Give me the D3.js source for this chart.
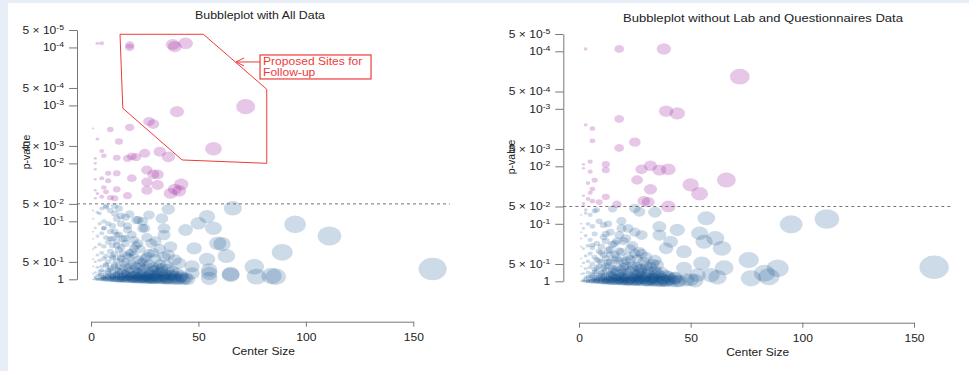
<!DOCTYPE html>
<html><head><meta charset="utf-8">
<script src="https://cdn.jsdelivr.net/npm/d3@7"></script>
<style>
body{margin:0;background:#e7eef8}
svg{display:block}
text{font-family:"Liberation Sans",Arial,Helvetica,sans-serif}
</style>
</head><body>
<svg id="c" width="969" height="371"></svg>
<script>
// ---------- data: [center size, p-value] ----------
const yTicks = [5e-5, 1e-4, 5e-4, 1e-3, 5e-3, 1e-2, 5e-2, 1e-1, 5e-1, 1];
const xTicks = [0, 50, 100, 150];
const threshold = 0.05;
const titles = ["Bubbleplot with All Data", "Bubbleplot without Lab and Questionnaires Data"];

const leftPurple = [
[3,8.5e-5],[5,8.5e-5],[18,9.1e-5],[18,1.0e-4],[38,8.9e-5],[39,9.7e-5],[44,8.5e-5],
[40,1.28e-3],[72,1.05e-3],[27,1.9e-3],[29,2.1e-3],[57,5.6e-3],[18,2.4e-3],[9,2.6e-3],[1,2.5e-3],
[3,3.8e-3],[13,4.2e-3],[5,6.1e-3],[6,7.4e-3],[2,8.2e-3],[12,8.0e-3],[17,8.2e-3],[19,7.6e-3],[21,7.8e-3],
[25,6.7e-3],[32,6.3e-3],[36,7.7e-3],[8,0.0148],[12,0.0148],[26,0.013],[29,0.0155],[31,0.0155],
[2,0.0126],[2,0.01],[2,0.0188],[5,0.018],[8,0.02],[19,0.018],[26,0.021],[31,0.0236],[42,0.023],
[39,0.028],[41,0.03],[37,0.033],[26,0.029],[12,0.028],[6,0.026],[7,0.031],[2,0.029],[2,0.04],
[5,0.0376],[9,0.039],[17,0.036],[11,0.04],[3,0.033]
];

const leftBlue = [
[95,0.1125],[111,0.179],[89,0.342],[159,0.664],[76,0.607],[77,0.9],[84,0.877],[86,0.9],[66,0.0596],
[54,0.083],[50,0.108],[57,0.132],[44,0.141],[61,0.246],[59,0.24],[63,0.397],[48,0.292],[54,0.452],
[55,0.69],[65,0.81],[55,0.96],[47,0.79],[41,0.53],[36,0.062],[33,0.089],[27,0.078],[22,0.095],
[34,0.172],[37,0.274],[24,0.132],[20,0.21],[26,0.407],[34,0.407],[12,0.172],[11,0.073],[7,0.057],
[4,0.073],[6,0.132],[6,0.13],[25,0.132],[21,0.095],[11,0.054],[7,0.054],[34,0.132],[28,0.24],
[20,0.29],[16,0.196],[11,0.15],[39,0.46],[47,0.6],[65,0.84],[55,0.79],[8,0.11],[10,0.2],
[1,1],[2,1],[3,1],[4,1],[5,1],[6,1],[7,1],[8,1],[9,1],[10,1],[11,1],[12,1],[13,1],[14,1],[15,1],
[16,1],[17,1],[18,1],[19,1],[20,1],[21,1],[22,1],[23,1],[24,1],[25,1],[26,1],[27,1],[28,1],[29,1],
[30,1],[32,1],[34,1],[36,1],[38,1],[40,1],[43,1],[45,1],
[2,0.95],[4,0.93],[6,0.96],[8,0.92],[10,0.95],[12,0.9],[14,0.97],[16,0.93],[18,0.9],[20,0.96],
[22,0.92],[24,0.95],[26,0.91],[28,0.94],[31,0.96],[33,0.92],[35,0.97],[39,0.9],[42,0.94],
[3,0.86],[5,0.84],[7,0.87],[9,0.83],[11,0.85],[13,0.8],[15,0.86],[17,0.82],[19,0.85],[21,0.8],
[23,0.84],[25,0.87],[27,0.82],[29,0.85],[31,0.8],[34,0.84],[37,0.86],
[2,0.76],[4,0.72],[6,0.75],[8,0.7],[10,0.74],[12,0.68],[14,0.73],[16,0.77],[18,0.71],[20,0.66],
[22,0.74],[24,0.7],[27,0.76],[30,0.69],[33,0.73],[36,0.67],
[3,0.62],[5,0.6],[7,0.58],[9,0.63],[11,0.56],[13,0.6],[15,0.54],[17,0.62],[19,0.57],[21,0.6],
[23,0.52],[26,0.58],[29,0.62],[32,0.55],
[2,0.5],[4,0.47],[6,0.44],[8,0.5],[10,0.43],[12,0.48],[14,0.45],[16,0.5],[18,0.42],[22,0.46],[24,0.5],[30,0.44],
[3,0.38],[5,0.35],[7,0.4],[9,0.33],[11,0.37],[13,0.31],[15,0.36],[17,0.39],[19,0.34],[23,0.3],[27,0.36],
[2,0.28],[4,0.25],[6,0.27],[8,0.23],[10,0.26],[12,0.22],[14,0.28],[16,0.24],[21,0.26],
[1,0.2],[3,0.18],[5,0.16],[7,0.19],[9,0.15],[13,0.17],[17,0.14],
[2,0.13],[4,0.11],[6,0.1],[10,0.12],[12,0.09],[14,0.11],[16,0.085],[18,0.075],
[1,0.065],[3,0.07],[5,0.06],[9,0.065],[13,0.06],[1,0.09],[1,0.15],[1,0.3],[1,0.45],[1,0.6],[1,0.8],
[5,0.98],[9,0.97],[13,0.99],[17,0.96],[21,0.98],[25,0.97],[29,0.99],[33,0.98],[37,0.97],[41,0.99],[44,0.96],
[6,0.9],[10,0.88],[14,0.91],[18,0.87],[22,0.89],[26,0.93],[30,0.88],[34,0.91],[38,0.84],[42,0.88],
[4,0.8],[8,0.78],[12,0.82],[16,0.79],[20,0.83],[24,0.78],[28,0.81],[32,0.77],[35,0.83],[40,0.79],
[5,0.7],[9,0.68],[13,0.72],[17,0.66],[21,0.71],[25,0.65],[29,0.7],[33,0.64],[38,0.72],
[7,0.55],[11,0.6],[15,0.64],[19,0.52],[23,0.6],[27,0.54],[31,0.63],[35,0.57],
[10,0.4],[14,0.42],[20,0.38],[25,0.43],[29,0.35],[32,0.3],[36,0.38],[18,0.35],
[12,0.26],[15,0.2],[22,0.24],[26,0.19],[30,0.22],[19,0.17],[9,0.2],[17,0.12],[24,0.1],[14,0.08],
[3,0.99],[7,0.98],[11,0.99],[15,0.98],[19,0.99],[23,0.98],[27,0.99],[31,0.98],[35,0.99],[39,0.98],
[2,0.9],[6,0.92],[10,0.91],[14,0.89],[18,0.93],[22,0.9],[26,0.88],[30,0.92],[4,0.84],[8,0.86],[12,0.85],[16,0.83],[20,0.86]
];

const rightPurple = [
[3,9.1e-5],[18,9.1e-5],[38,9.1e-5],[72,2.76e-4],[39,1.1e-3],[44,1.2e-3],[18,1.5e-3],[3,1.9e-3],
[6,2.2e-3],[6,3.6e-3],[25,3.8e-3],[18,4.8e-3],[5,8.3e-3],[2,9.2e-3],[2,0.0108],[12,9.2e-3],
[12,0.0116],[5,0.0124],[7,0.0175],[4,0.0196],[6,0.0248],[5,0.0288],[2,0.0325],[4,0.037],[6,0.04],
[9,0.042],[12,0.034],[17,0.046],[28,0.0113],[32,9.8e-3],[36,0.0116],[40,0.0113],[26,0.0173],
[32,0.025],[29,0.04],[31,0.042],[40,0.05],[50,0.021],[54,0.030],[66,0.0173],[2,0.044],[2,0.048]
];

const rightBlue = [
[95,0.102],[111,0.0826],[159,0.571],[76,0.426],[89,0.594],[83,0.726],[85,0.832],[77,0.887],
[57,0.08],[54,0.146],[61,0.179],[56,0.205],[64,0.267],[47,0.306],[55,0.486],[65,0.58],[59,0.78],
[47,0.59],[44,0.128],[41,0.205],[36,0.112],[34,0.063],[27,0.062],[25,0.054],[15,0.055],[8,0.057],
[3,0.057],[11,0.105],[18,0.157],[22,0.12],[28,0.157],[36,0.157],[39,0.267],[27,0.306],[35,0.52],
[26,0.557],[18,0.43],[14,0.35],[6,0.233],[15,0.78],[43,0.89],[48,0.95],[53,0.78],[50,0.93],[52,0.98],[62,0.85],
[1,1],[2,1],[3,1],[4,1],[5,1],[6,1],[7,1],[8,1],[9,1],[10,1],[11,1],[12,1],[13,1],[14,1],[15,1],
[16,1],[17,1],[18,1],[19,1],[20,1],[21,1],[22,1],[24,1],[25,1],[26,1],[28,1],[30,1],[31,1],[33,1],
[35,1],[37,1],[39,1],[42,1],[44,1],
[2,0.94],[4,0.96],[6,0.92],[8,0.95],[10,0.91],[12,0.96],[14,0.93],[16,0.9],[18,0.95],[20,0.92],
[23,0.96],[25,0.9],[27,0.94],[29,0.91],[32,0.95],[34,0.9],[38,0.94],[41,0.92],
[3,0.85],[5,0.82],[7,0.86],[9,0.8],[11,0.84],[13,0.87],[15,0.81],[17,0.85],[19,0.8],[21,0.86],
[24,0.82],[26,0.85],[28,0.8],[30,0.84],[33,0.86],[36,0.8],[40,0.84],
[2,0.73],[4,0.7],[6,0.74],[8,0.68],[10,0.72],[12,0.66],[14,0.75],[16,0.69],[18,0.73],[20,0.67],
[22,0.71],[25,0.75],[28,0.68],[31,0.72],[34,0.66],[37,0.7],
[3,0.6],[5,0.57],[7,0.62],[9,0.55],[11,0.59],[13,0.53],[15,0.6],[17,0.56],[19,0.62],[21,0.54],
[24,0.58],[27,0.61],[30,0.55],[33,0.5],
[2,0.48],[4,0.45],[6,0.5],[8,0.42],[10,0.47],[12,0.4],[14,0.46],[16,0.43],[20,0.48],[23,0.42],[29,0.46],
[3,0.36],[5,0.33],[7,0.38],[9,0.3],[11,0.35],[13,0.29],[16,0.34],[19,0.31],[22,0.37],[25,0.33],
[2,0.27],[4,0.24],[6,0.26],[8,0.22],[10,0.25],[12,0.2],[15,0.23],[20,0.2],[24,0.24],
[1,0.18],[3,0.16],[5,0.19],[7,0.15],[11,0.17],[14,0.14],[17,0.2],
[2,0.12],[4,0.1],[6,0.11],[9,0.09],[13,0.1],[19,0.09],
[1,0.07],[3,0.065],[5,0.07],[7,0.06],[1,0.1],[1,0.14],[1,0.25],[1,0.4],[1,0.55],[1,0.75],
[4,0.99],[8,0.97],[12,0.98],[16,0.99],[20,0.97],[23,0.99],[27,0.98],[32,0.97],[36,0.99],[40,0.97],[45,0.98],
[5,0.89],[9,0.9],[13,0.92],[17,0.88],[21,0.91],[25,0.87],[29,0.93],[33,0.89],[37,0.9],[43,0.86],
[6,0.79],[10,0.81],[14,0.78],[18,0.83],[22,0.79],[26,0.77],[30,0.82],[34,0.78],[39,0.8],
[7,0.69],[11,0.7],[15,0.67],[19,0.71],[23,0.65],[27,0.72],[31,0.66],[35,0.73],
[8,0.58],[12,0.55],[16,0.62],[20,0.57],[24,0.53],[28,0.6],[32,0.56],
[9,0.44],[13,0.47],[17,0.4],[21,0.44],[26,0.41],[30,0.38],[34,0.43],
[10,0.32],[14,0.28],[18,0.3],[23,0.27],[28,0.33],[16,0.22],[21,0.18],[12,0.15],[25,0.14],[19,0.12],
[2,0.98],[6,0.99],[10,0.98],[14,0.99],[18,0.98],[22,0.99],[26,0.98],[30,0.99],[34,0.98],[38,0.99],
[3,0.91],[7,0.93],[11,0.9],[15,0.92],[19,0.89],[23,0.91],[27,0.89],[4,0.83],[8,0.85],[12,0.82],[16,0.86],[20,0.84]
];

// follow-up region outline (left panel), in data units
const followUpRegion = [[13.5,5.93e-5],[52.3,5.93e-5],[81.8,5.27e-4],[81.8,0.00997],[42.4,0.00874],[14.8,1.12e-3]];
const followUpArrowTip = [67.5,1.78e-4];
const followUpLabel = ["Proposed Sites for","Follow-up"];

// ---------- drawing ----------
const SX = 1.15; // horizontal stretch of the text in the original picture
const svg = d3.select("#c");
svg.append("rect").attr("x",8).attr("y",3).attr("width",961).attr("height",368).attr("fill","#fff");

function panel(cfg){
  const g = svg.append("g");
  const x = d3.scaleLinear().domain([0,150]).range(cfg.xr);
  const y = d3.scaleLog().domain([1,5e-5]).range(cfg.yr);
  const r = d3.scaleSqrt().domain([0,160]).range([0,cfg.rmax]);
  const xEnd = x(167);

  // title
  g.append("text").attr("x",cfg.titleX).attr("y",cfg.titleY)
    .attr("text-anchor","middle").attr("font-size",11).attr("fill","#222")
    .attr("textLength",cfg.titleW).attr("lengthAdjust","spacingAndGlyphs").text(cfg.title);

  // y axis
  const ya = g.append("g").attr("transform",`translate(${cfg.ax},0)`)
    .call(d3.axisLeft(y).tickValues(yTicks).tickSize(8).tickSizeOuter(0).tickFormat(""));
  ya.selectAll("path,line").attr("stroke","#777");
  yTicks.forEach(t=>{
    const ex = Math.floor(Math.log10(t)+1e-9);
    const m = Math.round(t/Math.pow(10,ex));
    const txt = g.append("text").attr("transform",`translate(${cfg.ax-13},${y(t)+4}) scale(${SX},1)`)
      .attr("text-anchor","end").attr("font-size",10.5).attr("fill","#222");
    if (t===1){ txt.text("1"); return; }
    txt.append("tspan").text(m===5 ? "5 \u00d7 10" : "10");
    txt.append("tspan").attr("dy",-4).attr("font-size",7.5).text(String(ex));
  });

  // x axis
  const xa = g.append("g").attr("transform",`translate(0,${cfg.ay})`)
    .call(d3.axisBottom(x).tickValues(xTicks).tickSize(5).tickSizeOuter(0).tickPadding(7));
  xa.selectAll("path,line").attr("stroke","#777");
  xa.selectAll("text").attr("font-size",10.5).attr("fill","#222").attr("transform",`scale(${SX},1)`)
    .style("font-family",'"Liberation Sans",Arial,sans-serif');

  // axis labels
  g.append("text").attr("transform",`translate(${(cfg.ax+xEnd)/2},${cfg.ay+33}) scale(${SX},1)`)
    .attr("text-anchor","middle").attr("font-size",10.5).attr("fill","#222").text("Center Size");
  g.append("text").attr("transform",`translate(${cfg.labX},${cfg.labY}) rotate(-90)`)
    .attr("text-anchor","middle").attr("font-size",10.5).attr("fill","#222").text("p-value");

  // bubbles
  const bubbles = (data, color, op) => g.append("g").selectAll("ellipse").data(data).join("ellipse")
    .attr("cx",d=>x(d[0])).attr("cy",d=>y(d[1]))
    .attr("rx",d=>Math.max(0.8,r(d[0]))).attr("ry",d=>Math.max(0.7,r(d[0])*0.8))
    .attr("fill",color).attr("fill-opacity",op);
  bubbles(cfg.blue,"rgb(20,80,140)",0.21);
  bubbles(cfg.purple,"rgb(165,55,170)",0.28);

  // threshold
  g.append("line").attr("x1",cfg.ax).attr("x2",xEnd).attr("y1",y(threshold)).attr("y2",y(threshold))
    .attr("stroke","#666").attr("stroke-width",0.9).attr("stroke-dasharray","3,3");
  return {x,y,g};
}

const L = panel({title:titles[0], titleX:260, titleW:130, xr:[91,413.3], yr:[279.3,30], rmax:14.1, ax:77, ay:321.7,
  titleY:19, labX:30, labY:152, blue:leftBlue, purple:leftPurple});
panel({title:titles[1], titleX:763, titleW:280, xr:[579,914], yr:[281.3,34], rmax:14.7, ax:563.3, ay:322.7,
  titleY:22, labX:515, labY:157, blue:rightBlue, purple:rightPurple});

// annotation on left panel
const red = "#ee3b3b";
L.g.append("path").attr("d", d3.line().x(d=>L.x(d[0])).y(d=>L.y(d[1])).curve(d3.curveLinearClosed)(followUpRegion))
  .attr("fill","none").attr("stroke",red).attr("stroke-width",1);
const tx = L.x(followUpArrowTip[0]), ty = L.y(followUpArrowTip[1]);
L.g.append("line").attr("x1",tx).attr("y1",ty).attr("x2",tx+24).attr("y2",ty).attr("stroke",red);
L.g.append("path").attr("d",`M${tx+8},${ty-4}L${tx},${ty}L${tx+8},${ty+4}`).attr("fill","none").attr("stroke",red);
L.g.append("rect").attr("x",tx+24).attr("y",ty-7).attr("width",111).attr("height",24)
  .attr("fill","#fff").attr("stroke",red).attr("stroke-width",1.2);
followUpLabel.forEach((s,i)=>L.g.append("text").attr("transform",`translate(${tx+27},${ty+3+i*11.5}) scale(${SX},1)`)
  .attr("font-size",10.5).attr("fill",red).text(s));
</script>
</body></html>
